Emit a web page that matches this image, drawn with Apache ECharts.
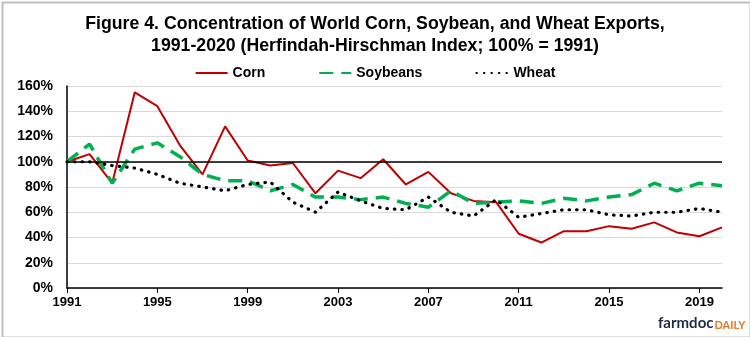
<!DOCTYPE html>
<html>
<head>
<meta charset="utf-8">
<script src="https://cdn.jsdelivr.net/npm/echarts@6/dist/echarts.min.js"></script>
<style>
  html, body { margin: 0; padding: 0; background: #fff; }
  #chart { width: 750px; height: 337px; }
</style>
</head>
<body>
<div id="chart"></div>
<script>
// Export concentration indices (HHI, 1991 = 100%)
const years = [];
for (let y = 1991; y <= 2020; y++) years.push(String(y));

const corn = [100, 106, 83, 155, 144, 113, 90, 128, 101, 97, 99, 75, 93, 87, 102, 82, 92, 75, 69, 68,
              43, 36, 45, 45, 49, 47, 52, 44, 41, 48];
const soybeans = [100, 114, 83, 110, 115, 104, 90, 85, 85, 77, 82, 72, 72, 70, 72, 67, 64, 77, 67, 68,
                  69, 67, 71, 69, 72, 74, 83, 77, 83, 81];
const wheat = [100, 100, 97, 95, 90, 83, 80, 77, 82, 84, 68, 60, 76, 69, 63, 62, 72, 60, 57, 70,
               56, 59, 62, 62, 58, 57, 60, 60, 63, 60];

const yTicks = { min: 0, max: 160, interval: 20 };

const chart = echarts.init(document.getElementById('chart'), null, { renderer: 'canvas' });

const baseFont = { fontFamily: 'Liberation Sans, Arial, sans-serif', fontWeight: 'bold', color: '#000' };

chart.setOption({
  animation: false,
  backgroundColor: '#fff',
  title: {
    text: 'Figure 4. Concentration of World Corn, Soybean, and Wheat Exports,\n1991-2020 (Herfindah-Hirschman Index; 100% = 1991)',
    left: 'center',
    top: 8,
    textStyle: Object.assign({ fontSize: 17.7, lineHeight: 22 }, baseFont)
  },
  legend: {
    top: 61,
    left: 'center',
    itemWidth: 32,
    itemHeight: 12,
    itemGap: 53,
    itemStyle: { opacity: 0 },
    textStyle: Object.assign({ fontSize: 14 }, baseFont),
    data: ['Corn', 'Soybeans', 'Wheat']
  },
  grid: { left: 67, right: 28, top: 86, bottom: 49, containLabel: false },
  xAxis: {
    type: 'category',
    data: years,
    boundaryGap: false,
    axisLine: { lineStyle: { color: '#000', width: 1.5 } },
    axisTick: { show: true, interval: 3, inside: false, length: 5, lineStyle: { color: '#000' } },
    axisLabel: Object.assign({ interval: 3, margin: 8, fontSize: 13 }, baseFont),
    splitLine: { show: false }
  },
  yAxis: {
    type: 'value',
    min: yTicks.min,
    max: yTicks.max,
    interval: yTicks.interval,
    axisLine: { show: true, lineStyle: { color: '#000', width: 1.5 } },
    axisTick: { show: false },
    axisLabel: Object.assign({ formatter: '{value}%', margin: 14, fontSize: 14 }, baseFont),
    splitLine: { lineStyle: { color: '#D9D9D9', width: 1 } }
  },
  series: [
    {
      name: 'Corn',
      type: 'line',
      data: corn,
      symbol: 'none',
      lineStyle: { color: '#C00000', width: 2 },
      itemStyle: { color: '#C00000' },
      markLine: {
        silent: true,
        symbol: 'none',
        label: { show: false },
        lineStyle: { color: '#000', width: 1.5, type: 'solid' },
        data: [{ yAxis: 100 }]
      }
    },
    {
      name: 'Soybeans',
      type: 'line',
      data: soybeans,
      symbol: 'none',
      lineStyle: { color: '#00B050', width: 3.5, type: [14, 8] },
      itemStyle: { color: '#00B050' }
    },
    {
      name: 'Wheat',
      type: 'line',
      data: wheat,
      symbol: 'none',
      lineStyle: { color: '#000', width: 3.2, type: [0.5, 7], cap: 'round' },
      itemStyle: { color: '#000' }
    }
  ],
  graphic: [
    {
      type: 'rect',
      left: 0, top: 0,
      shape: { x: 0, y: 0, width: 748, height: 335 },
      style: { fill: 'none', stroke: '#BFBFBF', lineWidth: 2 },
      silent: true,
      z: 100
    },
    {
      type: 'text',
      left: 658,
      top: 316,
      style: {
        text: '{a|farmdoc}{b|DAILY}',
        rich: {
          a: { fontFamily: 'Lato, Open Sans, sans-serif', fontWeight: 'bold', fontSize: 15, fill: '#1F2A44' },
          b: { fontFamily: 'Lato, Open Sans, sans-serif', fontWeight: 'bold', fontSize: 11, fill: '#E87722', padding: [3, 0, 0, 1] }
        }
      }
    }
  ]
});
</script>
</body>
</html>
